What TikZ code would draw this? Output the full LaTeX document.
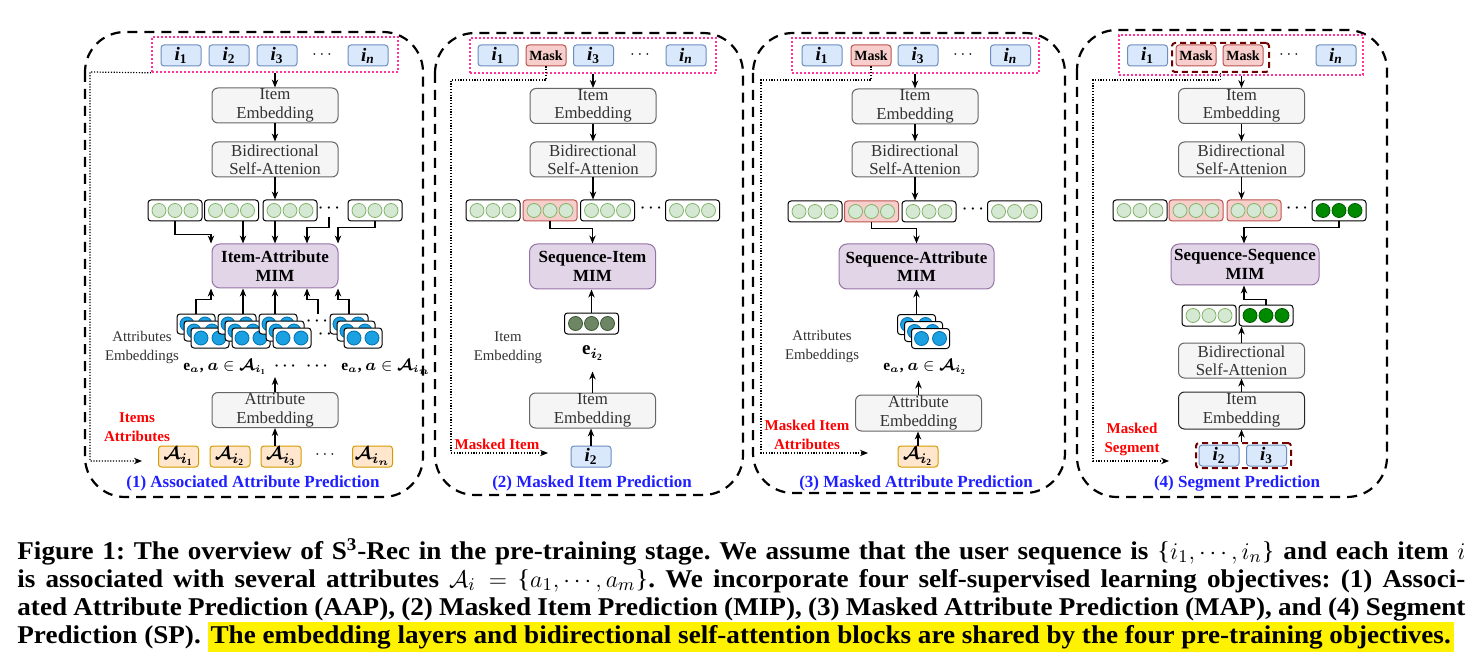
\documentclass[tikz,border=0pt]{standalone}
\usepackage{fontspec}
\setmainfont{Liberation Serif}
\newfontfamily\capfont[FakeStretch=1.06]{Liberation Serif}
\usepackage{bm}
\usetikzlibrary{arrows.meta,calc}
\definecolor{itemF}{HTML}{DAE8FC}\definecolor{itemB}{HTML}{6C8EBF}
\definecolor{maskF}{HTML}{F8CECC}\definecolor{maskB}{HTML}{B85450}
\definecolor{attF}{HTML}{FFE6CC}\definecolor{attB}{HTML}{D79B00}
\definecolor{embF}{HTML}{F5F5F5}\definecolor{embB}{HTML}{666666}\definecolor{embT}{HTML}{333333}
\definecolor{mimF}{HTML}{E1D5E7}\definecolor{mimB}{HTML}{9673A6}
\definecolor{gcF}{HTML}{D5E8D4}\definecolor{gcB}{HTML}{82B366}
\definecolor{bcF}{HTML}{1BA1E2}\definecolor{bcB}{HTML}{006EAF}
\definecolor{dgF}{HTML}{008A00}\definecolor{dgB}{HTML}{005700}
\definecolor{olF}{HTML}{6D8764}\definecolor{olB}{HTML}{3A5431}
\definecolor{pinkC}{HTML}{FF3399}\definecolor{segC}{HTML}{6E0000}
\definecolor{ttlC}{HTML}{1F1FFF}
\newcommand\ib[1]{\textbf{\textit{i}}\textsubscript{\textbf{#1}}}
\newcommand\lbr{{\mdseries\{}}
\newcommand\rbr{{\mdseries\}}}
\newcommand\vthree[5]{%
  \node[vecb,#4] (#1) at (#2,#3) {};
  \foreach \dd in {-16,0,16}{\node[cir,#5] at (#2+\dd,#3) {};}%
}
\newcommand\stk[3]{%
  \foreach \k in {2,1,0}{%
    \node[attb] (#1k\k) at (#2-7*\k,#3-7*\k) {};
    \node[bci] at (#2-7*\k-9,#3-7*\k) {};
    \node[bci] at (#2-7*\k+9,#3-7*\k) {};
  }}
\tikzset{
 x=0.5pt,y=-0.5pt,
 arr/.style={-{Stealth[length=4pt,width=3.2pt]}, line width=0.6pt, black},
 dotc/.style={-{Stealth[length=4pt,width=3.2pt]}, line width=0.6pt, dash pattern=on 0.6pt off 0.8pt, black},
 outerbox/.style={draw, line width=1.1pt, dash pattern=on 5pt off 3.5pt, rounded corners=20pt},
 pinkrow/.style={draw=pinkC, line width=0.8pt, dash pattern=on 0.8pt off 1.2pt, inner sep=0, minimum height=17.5pt},
 itm/.style={draw=itemB, fill=itemF, rounded corners=1.5pt, minimum width=20pt, minimum height=10.5pt, inner sep=0, font=\fontsize{9.5}{9.5}\selectfont, line width=0.5pt},
 msk/.style={itm, draw=maskB, fill=maskF, font=\bfseries\fontsize{7}{7}\selectfont},
 abx/.style={itm, draw=attB, fill=attF},
 emb/.style={draw=embB, fill=embF, rounded corners=3pt, minimum width=63pt, minimum height=17.5pt, inner sep=0, align=center, text=embT, font=\fontsize{8.4}{9.2}\selectfont, line width=0.5pt},
 mimb/.style={draw=mimB, fill=mimF, rounded corners=4pt, minimum width=63pt, minimum height=22pt, inner sep=0, align=center, font=\bfseries\fontsize{8.5}{9.2}\selectfont, line width=0.5pt},
 vecb/.style={draw=black, fill=white, rounded corners=1.5pt, minimum width=27pt, minimum height=10.5pt, inner sep=0, line width=0.5pt},
 redv/.style={draw=maskB, fill=maskF},
 cir/.style={circle, draw=gcB, fill=gcF, minimum size=7pt, inner sep=0, line width=0.4pt},
 dkg/.style={draw=dgB, fill=dgF},
 olv/.style={draw=olB, fill=olF},
 attb/.style={vecb, minimum width=19pt, minimum height=10pt},
 bci/.style={cir, draw=bcB, fill=bcF},
 lbl/.style={align=center, font=\fontsize{7.4}{9.5}\selectfont, text=embT, inner sep=0},
 redl/.style={align=center, font=\bfseries\fontsize{7.5}{9.5}\selectfont, text=red, inner sep=0},
 ttl/.style={font=\bfseries\fontsize{8.5}{9}\selectfont, text=ttlC, inner sep=0},
 dotsT/.style={inner sep=0, font=\fontsize{8}{8}\selectfont},
 bdots/.style={inner sep=0, font=\fontsize{7.5}{8}\selectfont},
 elbl/.style={inner sep=0, font=\fontsize{7.7}{9}\selectfont},
 segbox/.style={draw=segC, line width=1pt, dash pattern=on 3pt off 2pt, rounded corners=1.5pt, inner sep=0},
 captxt/.style={inner sep=0, anchor=base west, font=\capfont\frenchspacing\bfseries\fontsize{12.8}{14}\selectfont},
}
\begin{document}
\begin{tikzpicture}
\useasboundingbox (0,0) rectangle (1472,663);
\fill[white] (0,0) rectangle (1472,663);

% ================= Panel 1 =================
\draw[outerbox] (85,32) rectangle (423,497);
\node[pinkrow,minimum width=123pt] (r1) at (275,54.5) {};
\node[itm] (p1i1) at (181,55.5) {\ib{1}};
\node[itm] (p1i2) at (229,55.5) {\ib{2}};
\node[itm] (p1i3) at (277,55.5) {\ib{3}};
\node[dotsT] (p1id) at (322,55) {$\cdots$};
\node[itm] (p1in) at (368,55.5) {\ib{\textit{n}}};
\node[emb] (p1e) at (275,105.5) {Item\\Embedding};
\node[emb] (p1b) at (275,159.5) {Bidirectional\\Self-Attenion};
\draw[arr] (r1.south -| p1e.north) -- (p1e.north);
\draw[arr] (p1e.south) -- (p1b.north);
\vthree{p1v1}{175}{210.5}{}{}
\vthree{p1v2}{231.5}{210.5}{}{}
\vthree{p1v3}{290}{210.5}{}{}
\node[bdots] (p1vd) at (329,208) {$\bm\cdots$};
\vthree{p1v4}{375}{210.5}{}{}
\draw[arr] (p1b.south) -- (p1b.south |- p1v3.north);
\node[mimb] (p1m) at (275,266) {Item-Attribute\\MIM};
\coordinate (p1t1) at ($(p1m.north)+(-64,0)$);
\coordinate (p1t2) at ($(p1m.north)+(-32,0)$);
\coordinate (p1t3) at ($(p1m.north)+(0,0)$);
\coordinate (p1t4) at ($(p1m.north)+(32,0)$);
\coordinate (p1t5) at ($(p1m.north)+(63,0)$);
\coordinate (p1dv) at (329,217);
\draw[arr] (p1v1.south) |- ($(p1t1)+(0,-9)$) -- (p1t1);
\draw[arr] (p1t2 |- p1v2.south) -- (p1t2);
\draw[arr] (p1t3 |- p1v3.south) -- (p1t3);
\draw[arr] (p1dv) |- ($(p1t4)+(0,-16)$) -- (p1t4);
\draw[arr] (p1v4.south) |- ($(p1t5)+(0,-16)$) -- (p1t5);
\stk{p1s1}{210}{338}
\stk{p1s2}{251}{338}
\stk{p1s3}{292}{338}
\node[bdots] (p1sd1) at (317,321) {$\bm\cdots$};
\node[bdots] (p1sd2) at (329,334) {$\bm\cdots$};
\stk{p1s4}{363}{338}
\coordinate (p1u1) at ($(p1m.south)+(-64,0)$);
\coordinate (p1u2) at ($(p1m.south)+(-32,0)$);
\coordinate (p1u3) at ($(p1m.south)+(0,0)$);
\coordinate (p1u4) at ($(p1m.south)+(32,0)$);
\coordinate (p1u5) at ($(p1m.south)+(63,0)$);
\coordinate (p1du) at (318,314);
\draw[arr] (p1s1k2.north) |- ($(p1u1)+(0,11)$) -- (p1u1);
\draw[arr] (p1u2 |- p1s2k2.north) -- (p1u2);
\draw[arr] (p1u3 |- p1s3k2.north) -- (p1u3);
\draw[arr] (p1du) |- ($(p1u4)+(0,11)$) -- (p1u4);
\draw[arr] (p1s4k2.north) |- ($(p1u5)+(0,11)$) -- (p1u5);
\node[lbl] (p1al) at (142,347.5) {Attributes\\Embeddings};
\node[elbl] (p1ea) at (225,367) {$\mathbf{e}_{\bm a}$\textbf{, }$\bm a\in\bm{\mathcal A}_{\bm i_{\mathbf 1}}$};
\node[bdots] at (285,366) {$\bm\cdots$};
\node[bdots] at (317,366) {$\bm\cdots$};
\node[elbl] (p1eb) at (386,367) {$\mathbf{e}_{\bm a}$\textbf{, }$\bm a\in\bm{\mathcal A}_{\bm i_{\bm n}}$};
\node[emb] (p1att) at (275,410) {Attribute\\Embedding};
\coordinate (p1ae) at ($(p1att.north)+(0,-15)$);
\draw[arr] (p1att.north) -- (p1ae);
\node[abx] (p1A1) at (178.5,456.5) {$\bm{\mathcal A}_{\bm i_{\mathbf 1}}$};
\node[abx] (p1A2) at (230,456.5) {$\bm{\mathcal A}_{\bm i_{\mathbf 2}}$};
\node[abx] (p1A3) at (281,456.5) {$\bm{\mathcal A}_{\bm i_{\mathbf 3}}$};
\node[dotsT] (p1Ad) at (325,455) {$\cdots$};
\node[abx] (p1An) at (372.5,456.5) {$\bm{\mathcal A}_{\bm i_{\bm n}}$};
\draw[arr] (p1A3.north -| p1att.south) -- (p1att.south);
\node[redl] (p1red) at (137,427.5) {Items\\Attributes};
\coordinate (p1de) at (142,461);
\draw[dotc] (r1.south west) -- (90,72) -- (90,461) -- (p1de);
\node[ttl] (p1ttl) at (253,483) {(1) Associated Attribute Prediction};

% ================= Panel 2 =================
\draw[outerbox] (435,33) rectangle (743,495);
\node[pinkrow,minimum width=123pt] (r2) at (593,55.5) {};
\node[itm] (p2i1) at (498,55.5) {\ib{1}};
\node[msk] (p2k) at (546,55.5) {Mask};
\node[itm] (p2i3) at (593.5,55.5) {\ib{3}};
\node[dotsT] (p2id) at (640,55) {$\cdots$};
\node[itm] (p2in) at (686,55.5) {\ib{\textit{n}}};
\node[emb] (p2e) at (593,106) {Item\\Embedding};
\node[emb] (p2b) at (593,159.5) {Bidirectional\\Self-Attenion};
\draw[arr] (r2.south -| p2e.north) -- (p2e.north);
\draw[arr] (p2e.south) -- (p2b.north);
\vthree{p2v1}{493}{210.5}{}{}
\vthree{p2v2}{550}{210.5}{redv}{}
\vthree{p2v3}{607.5}{210.5}{}{}
\node[bdots] (p2vd) at (651,208) {$\bm\cdots$};
\vthree{p2v4}{692.5}{210.5}{}{}
\draw[arr] (p2b.south) -- (p2b.south |- p2v3.north);
\node[mimb,minimum height=22.5pt] (p2m) at (592.5,266.5) {Sequence-Item\\MIM};
\draw[arr] (p2v2.south) |- ($(p2m.north)+(0,-15)$) -- (p2m.north);
\vthree{p2o}{591.5}{323.5}{}{olv}
\draw[arr] (p2o.north) -- (p2o.north |- p2m.south);
\node[elbl,font=\fontsize{9.5}{10}\selectfont] (p2el) at (593,353) {$\mathbf e_{\bm i_{\mathbf 2}}$};
\node[emb] (p2e2) at (592.5,410.5) {Item\\Embedding};
\coordinate (p2ee) at ($(p2e2.north)+(0,-21)$);
\draw[arr] (p2e2.north) -- (p2ee);
\node[itm] (p2i) at (591,456.5) {\ib{2}};
\draw[arr] (p2i.north) -- (p2i.north |- p2e2.south);
\node[lbl] (p2lb) at (508,348) {Item\\Embedding};
\node[redl] (p2red) at (497,444) {Masked Item};
\coordinate (p2de) at (548,453);
\draw[dotc] (p2k.south) |- (451,80) |- (p2de);
\node[ttl] (p2ttl) at (592,483) {(2) Masked Item Prediction};

% ================= Panel 3 =================
\draw[outerbox] (753,33) rectangle (1065,493);
\node[pinkrow,minimum width=123.5pt] (r3) at (915.5,55.5) {};
\node[itm] (p3i1) at (822,55.5) {\ib{1}};
\node[msk] (p3k) at (871,55.5) {Mask};
\node[itm] (p3i3) at (918,55.5) {\ib{3}};
\node[dotsT] (p3id) at (963,55) {$\cdots$};
\node[itm] (p3in) at (1010.5,55.5) {\ib{\textit{n}}};
\node[emb] (p3e) at (915,106.5) {Item\\Embedding};
\node[emb] (p3b) at (915,159.5) {Bidirectional\\Self-Attenion};
\draw[arr] (r3.south -| p3e.north) -- (p3e.north);
\draw[arr] (p3e.south) -- (p3b.north);
\vthree{p3v1}{815}{211.5}{}{}
\vthree{p3v2}{871.5}{211.5}{redv}{}
\vthree{p3v3}{929}{211.5}{}{}
\node[bdots] (p3vd) at (973,209) {$\bm\cdots$};
\vthree{p3v4}{1014.5}{211.5}{}{}
\draw[arr] (p3b.south) -- (p3b.south |- p3v3.north);
\node[mimb,minimum width=77.5pt,minimum height=22.5pt] (p3m) at (916.5,266.5) {Sequence-Attribute\\MIM};
\draw[arr] (p3v2.south) |- ($(p3m.north)+(0,-15)$) -- (p3m.north);
\stk{p3s}{930.5}{338.5}
\draw[arr] (p3sk2.north) -- (p3sk2.north |- p3m.south);
\node[elbl] (p3el) at (925,367) {$\mathbf{e}_{\bm a}$\textbf{, }$\bm a\in\bm{\mathcal A}_{\bm i_{\mathbf 2}}$};
\node[emb,minimum height=18pt] (p3att) at (918.5,413) {Attribute\\Embedding};
\coordinate (p3ae) at ($(p3att.north)+(0,-14)$);
\draw[arr] (p3att.north) -- (p3ae);
\node[abx] (p3A) at (918,456.5) {$\bm{\mathcal A}_{\bm i_{\mathbf 2}}$};
\draw[arr] (p3A.north) -- (p3A.north |- p3att.south);
\node[lbl] (p3lb) at (822,346.5) {Attributes\\Embeddings};
\node[redl] (p3red) at (807,434.5) {Masked Item\\Attributes};
\coordinate (p3de) at (868,453);
\draw[dotc] (p3k.south) |- (761,80) |- (p3de);
\node[ttl] (p3ttl) at (916,483) {(3) Masked Attribute Prediction};

% ================= Panel 4 =================
\draw[outerbox] (1077,30) rectangle (1387,497);
\node[pinkrow,minimum width=122pt,minimum height=20pt] (r4) at (1241,55) {};
\node[itm] (p4i1) at (1147.5,55.5) {\ib{1}};
\node[msk] (p4k1) at (1196,55.5) {Mask};
\node[msk] (p4k2) at (1243,55.5) {Mask};
\node[dotsT] (p4id) at (1289,55) {$\cdots$};
\node[itm] (p4in) at (1336,55.5) {\ib{\textit{n}}};
\node[segbox,minimum width=48.5pt,minimum height=14.5pt] (p4sg) at (1220.5,57.5) {};
\node[emb] (p4e) at (1241.5,106) {Item\\Embedding};
\node[emb] (p4b) at (1241.5,159.5) {Bidirectional\\Self-Attenion};
\draw[arr] (r4.south -| p4e.north) -- (p4e.north);
\draw[arr] (p4e.south) -- (p4b.north);
\vthree{p4v1}{1140}{210.5}{}{}
\vthree{p4v2}{1196}{210.5}{redv}{}
\vthree{p4v3}{1254}{210.5}{redv}{}
\node[bdots] (p4vd) at (1297,208) {$\bm\cdots$};
\vthree{p4v4}{1339}{210.5}{}{dkg}
\draw[arr] (p4b.south) -- (p4b.south |- p4v3.north);
\node[mimb,minimum width=74pt,minimum height=20.5pt] (p4m) at (1245,264.5) {Sequence-Sequence\\MIM};
\draw[arr] (p4v4.south) |- ($(p4m.north)+(-1,-16)$) -- ($(p4m.north)+(-1,0)$);
\vthree{p4w1}{1209}{315.5}{}{}
\vthree{p4w2}{1266}{315.5}{}{dkg}
\draw[arr] (p4w2.north) |- ($(p4m.south)+(-1,14)$) -- ($(p4m.south)+(-1,0)$);
\node[emb] (p4b2) at (1241.5,360.5) {Bidirectional\\Self-Attenion};
\draw[arr] (p4b2.north) -- (p4b2.north |- p4w2.south);
\node[emb,draw=black!85,minimum height=18.5pt] (p4e2) at (1241.5,410.5) {Item\\Embedding};
\draw[arr] (p4e2.north) -- (p4b2.south);
\node[segbox,minimum width=47.5pt,minimum height=12.5pt] (p4sb) at (1243.5,455.5) {};
\node[itm] (p4j2) at (1219,455.5) {\ib{2}};
\node[itm] (p4j3) at (1266.5,455.5) {\ib{3}};
\draw[arr] (p4sb.north -| p4e2.south) -- (p4e2.south);
\node[redl] (p4red) at (1132,439) {Masked\\Segment};
\coordinate (p4de) at (1169,461);
\draw[dotc] (p4sg.south) |- (1093,80) |- (p4de);
\node[ttl] (p4ttl) at (1237,483) {(4) Segment Prediction};

% ================= Caption =================
\node[captxt] (c1) at (17,559) {\makebox[724pt][s]{Figure 1: The overview of S\textsuperscript{3}-Rec in the pre-training stage. We assume that the user sequence is \lbr$i_1,\cdots,i_n$\rbr\ and each item $i$}};
\node[captxt] (c2) at (17,587) {\makebox[724pt][s]{is associated with several attributes $\mathcal{A}_i=$ \lbr$a_1,\cdots,a_m$\rbr. We incorporate four self-supervised learning objectives: (1) Associ-}};
\node[captxt] (c3) at (17,615) {\makebox[724pt][s]{ated Attribute Prediction (AAP), (2) Masked Item Prediction (MIP), (3) Masked Attribute Prediction (MAP), and (4) Segment}};
\node[captxt] (c4) at (17,643) {Prediction (SP). {\setlength\fboxsep{1.5pt}\colorbox{yellow}{The embedding layers and bidirectional self-attention blocks are shared by the four pre-training objectives.}}};
\end{tikzpicture}
\end{document}
